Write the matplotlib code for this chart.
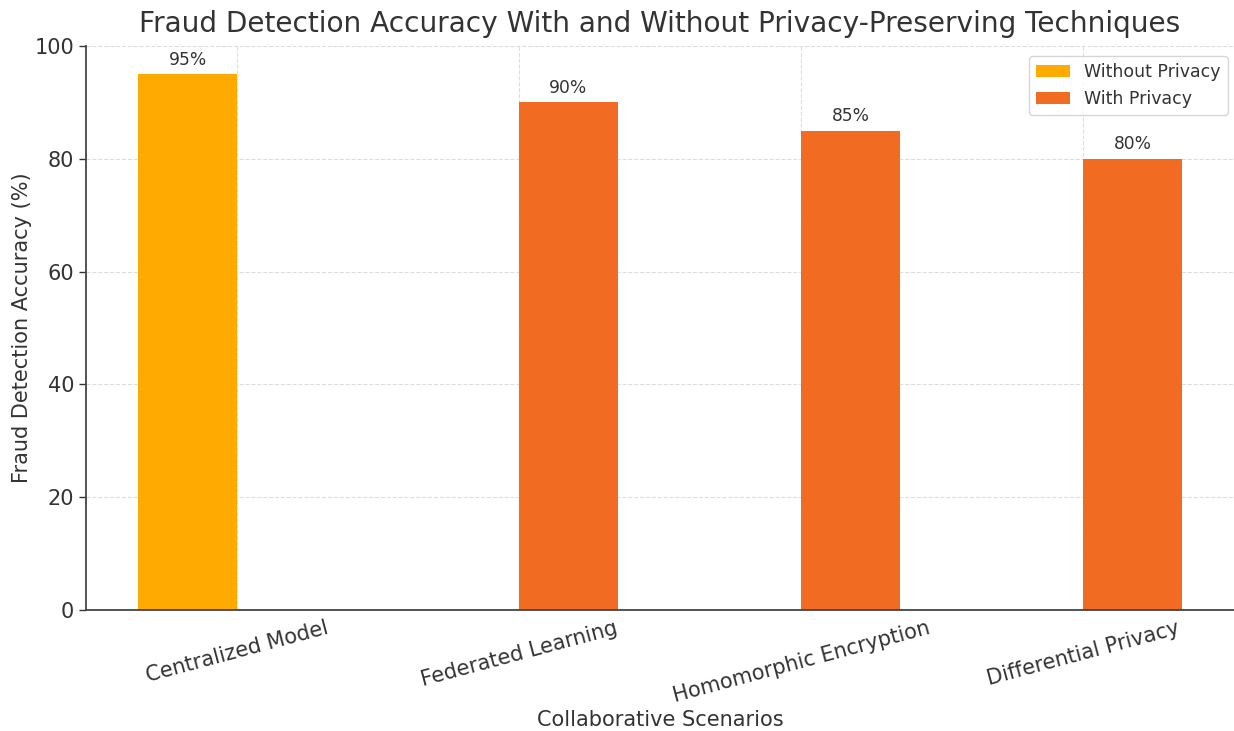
import matplotlib
matplotlib.use("Agg")
import matplotlib.pyplot as plt
import numpy as np

categories = ["Centralized Model", "Federated Learning", "Homomorphic Encryption", "Differential Privacy"]
without_privacy = [95, 0, 0, 0]
with_privacy = [0, 90, 85, 80]
series_names = ["Without Privacy", "With Privacy"]

TXT = "#333333"
plt.rcParams["text.color"] = TXT
plt.rcParams["axes.labelcolor"] = TXT
plt.rcParams["xtick.color"] = TXT
plt.rcParams["ytick.color"] = TXT

fig = plt.figure(figsize=(12.34, 7.31), dpi=100)
ax = fig.add_axes([86/1234, 1-610/731, 1-86/1234, (610-46)/731])

x = np.arange(len(categories))
w = 0.35
b1 = ax.bar(x - w/2, without_privacy, w, color="#FFAA00", label=series_names[0])
b2 = ax.bar(x + w/2, with_privacy, w, color="#F26B22", label=series_names[1])

for bars in (b1, b2):
    for r in bars:
        h = r.get_height()
        if h > 0:
            ax.annotate(f"{h:.0f}%", (r.get_x() + r.get_width()/2, h),
                        xytext=(0, 4), textcoords="offset points",
                        ha="center", va="bottom", fontsize=12.3, color=TXT)

ax.set_ylim(0, 100)
ax.set_yticks([0, 20, 40, 60, 80, 100])
ax.set_xticks(x)
ax.set_xticklabels(categories, rotation=15, ha="center", fontsize=15)
ax.tick_params(axis="y", labelsize=15, length=5, width=1)
ax.tick_params(axis="x", length=0, pad=6)
ax.set_xlabel("Collaborative Scenarios", fontsize=15, labelpad=3)
ax.set_ylabel("Fraud Detection Accuracy (%)", fontsize=15, labelpad=2)
ax.set_title("Fraud Detection Accuracy With and Without Privacy-Preserving Techniques", fontsize=20.2, pad=10)

ax.grid(True, linestyle="--", color="#dddddd", linewidth=0.8)
ax.set_axisbelow(True)
for s in ("top", "right"):
    ax.spines[s].set_visible(False)
for s in ("left", "bottom"):
    ax.spines[s].set_color("#444444")
    ax.spines[s].set_linewidth(1.3)

leg = ax.legend(loc="upper right", fontsize=12.5, frameon=True, bbox_to_anchor=(1.002, 0.997))
leg.get_frame().set_edgecolor("#cccccc")

fig.savefig("out.png", dpi=100)
